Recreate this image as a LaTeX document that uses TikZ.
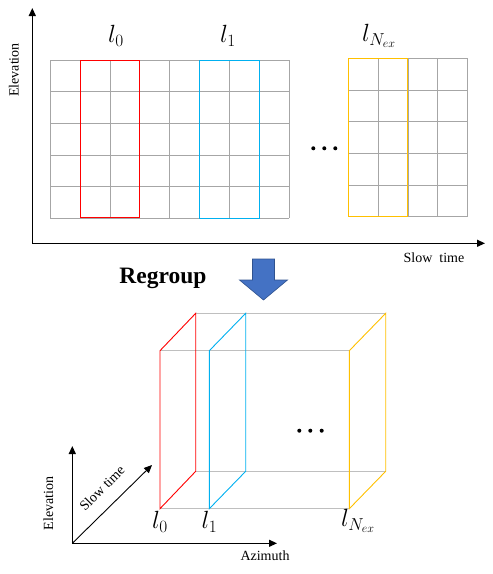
\documentclass[tikz,border=0pt]{standalone}
\usepackage{fontspec}
\setmainfont{Liberation Serif}
\usetikzlibrary{arrows.meta,shapes.arrows}
\definecolor{gridgray}{HTML}{A6A6A6}
\definecolor{cubegray}{HTML}{BFBFBF}
\definecolor{lred}{HTML}{FF0000}
\definecolor{lblue}{HTML}{00B0F0}
\definecolor{lyellow}{HTML}{FFC000}
\definecolor{arrfill}{HTML}{4472C4}
\definecolor{arrdraw}{HTML}{2F528F}
\tikzset{
  gridline/.style={draw=gridgray,line width=0.9pt},
  cubeline/.style={draw=cubegray,line width=0.9pt},
  axis/.style={draw=black,line width=1.2pt,-{Triangle[length=8pt,width=7pt]}},
  thinaxis/.style={draw=black,line width=0.9pt,-{Triangle[length=8pt,width=7pt]}},
  lab/.style={font=\fontsize{14}{16}\selectfont,inner sep=0pt},
  mlab/.style={font=\fontsize{23}{25}\selectfont,inner sep=0pt},
  dot/.style={fill=black},
}
\begin{document}
\begin{tikzpicture}[x=1pt,y=-1pt]
\useasboundingbox (0,0) rectangle (493,574);
% ---------- top axes
\coordinate (o1) at (32.3,243.3);
\coordinate (ytop1) at (32.3,8);
\coordinate (xend1) at (485,243.3);
\draw[axis] (o1) -- (ytop1);
\draw[axis] (o1) -- (xend1);
\node[lab,rotate=90] (elev1) at (13.8,70) {Elevation};
\node[lab] (slow1) at (434,258) {Slow\hspace{7pt}time};
% ---------- grid 1
\foreach \i in {0,...,8} {
  \draw[gridline] (50.3+\i*29.875,60.3) -- (50.3+\i*29.875,218.3);
}
\foreach \j in {0,...,5} {
  \draw[gridline] (50.3,60.3+\j*31.6) -- (289.3,60.3+\j*31.6);
}
% ---------- grid 2
\foreach \i in {0,...,4} {
  \draw[gridline] (348.3+\i*29.85,58.3) -- (348.3+\i*29.85,216.7);
}
\foreach \j in {0,...,5} {
  \draw[gridline] (348.3,58.3+\j*31.68) -- (467.7,58.3+\j*31.68);
}
% highlighted groups
\draw[lred,line width=1.1pt] (80.3,60.3) rectangle (139.5,217.9);
\draw[lblue,line width=1.1pt] (199.3,60.3) rectangle (259.3,218.3);
\draw[lyellow,line width=1.1pt] (348.3,58.3) rectangle (407.8,216.7);
% labels
\node[mlab] (t0) at (116,36) {$l_0$};
\node[mlab] (t1) at (228,36) {$l_1$};
\node[mlab] (tn) at (379,36) {$l_{N_{ex}}$};
% dots
\fill[dot] (313.3,148.3) circle (2pt) (324.3,148.3) circle (2pt) (335.3,148.3) circle (2pt);
% ---------- regroup
\node[font=\fontsize{23.5}{26}\bfseries\selectfont,inner sep=0pt] (rg) at (163,278) {Regroup};
\path[fill=arrfill,draw=arrdraw,line width=0.6pt]
  (252.5,259) -- (274.5,259) -- (274.5,280) -- (287.5,280) -- (263.5,300)
  -- (239.5,280) -- (252.5,280) -- cycle;
% ---------- cube
\coordinate (fa) at (160,350.7);   % front top-left
\coordinate (fb) at (349.3,350.7); % front top-right
\coordinate (fc) at (349.3,508.7); % front bottom-right
\coordinate (fd) at (160,508.7);   % front bottom-left
\coordinate (ba) at (195.7,313.3);
\coordinate (bb) at (385.7,313.3);
\coordinate (bc) at (385.7,471.3);
\coordinate (bd) at (195.7,471.3);
\coordinate (f1t) at (209.3,350.7);
\coordinate (f1b) at (209.3,508.7);
\coordinate (b1t) at (245.7,313.3);
\coordinate (b1b) at (245.7,471.3);
\draw[cubeline] (fa) -- (fb) (fd) -- (fc) (ba) -- (bb) (bd) -- (bc);
\draw[lred,line width=0.9pt] (fd) -- (fa) -- (ba) -- (bd) -- cycle;
\draw[lblue,line width=0.9pt] (f1b) -- (f1t) -- (b1t) -- (b1b) -- cycle;
\draw[lyellow,line width=0.9pt] (fc) -- (fb) -- (bb) -- (bc) -- cycle;
\fill[dot] (299.3,430.7) circle (2pt) (310.3,430.7) circle (2pt) (321.7,430.7) circle (2pt);
\node[mlab] (b0) at (160,522) {$l_0$};
\node[mlab] (b1) at (209.5,522) {$l_1$};
\node[mlab] (bn) at (358,521) {$l_{N_{ex}}$};
% ---------- bottom axes
\coordinate (o2) at (72.3,543.3);
\coordinate (ytop2) at (72.3,446);
\coordinate (xend2) at (277,543.3);
\coordinate (dend2) at (152,465);
\draw[axis] (o2) -- (ytop2);
\draw[axis] (o2) -- (xend2);
\draw[thinaxis] (o2) -- (dend2);
\node[lab,rotate=90] (elev2) at (48.3,503.3) {Elevation};
\node[lab,rotate=45] (slow2) at (102,488) {Slow time};
\node[lab] (azi) at (265,556) {Azimuth};
\end{tikzpicture}
\end{document}
